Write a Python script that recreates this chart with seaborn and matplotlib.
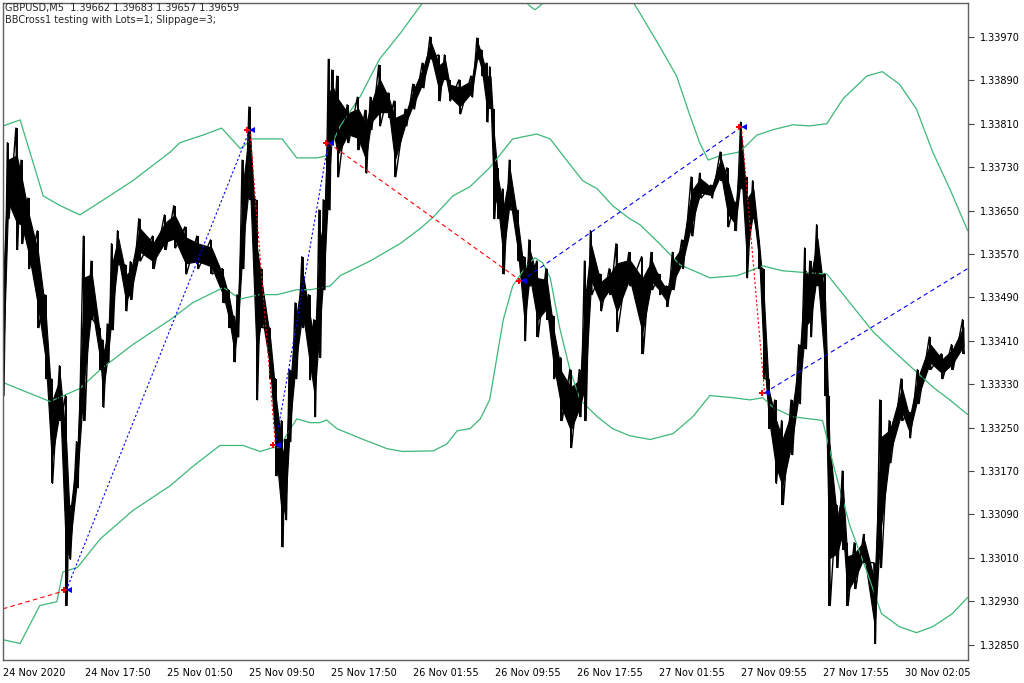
import numpy as np
import pandas as pd
import seaborn as sns
import matplotlib.pyplot as plt

# price action (M5 bars grouped), x = bar index
bar_x = [0, 6, 16, 22, 30, 41, 50, 57, 67, 74, 78, 87, 95, 104, 114, 117, 123, 128, 135, 144,
         150, 160, 176, 190, 201, 214, 228, 244, 258, 265, 271, 275, 281, 289, 297, 303, 313, 320, 327, 331,
         336, 343, 351, 359, 365, 371, 376, 382, 386, 392, 404, 416, 425, 431, 441, 452, 459, 472, 481, 492,
         501, 511, 518, 523, 535, 549, 556, 561, 567, 571, 575, 580, 586, 594, 603, 611, 617, 626, 637, 645,
         654, 665, 676, 682, 689, 700, 711, 719, 734, 749, 760, 769, 778, 785, 796, 807, 817, 830, 841, 849,
         858, 865, 871, 879, 886, 891, 897, 905, 913, 924, 933, 940, 946, 954, 963, 968, 977, 984, 989, 998,
         1009, 1021, 1028, 1039, 1053, 1062, 1072, 1086, 1100, 1112, 1125]
bar_hi = [1.33574, 1.33775, 1.33802, 1.33743, 1.33673, 1.33613, 1.33495, 1.33340, 1.33364, 1.33309,
          1.33108, 1.33224, 1.33603, 1.33557, 1.33434, 1.33412, 1.33441, 1.33589, 1.33613, 1.33550,
          1.33556, 1.33635, 1.33603, 1.33642, 1.33659, 1.33620, 1.33603, 1.33596, 1.33543, 1.33504,
          1.33456, 1.33495, 1.33743, 1.33841, 1.33670, 1.33543, 1.33434, 1.33340, 1.33263, 1.33228,
          1.33357, 1.33480, 1.33565, 1.33495, 1.33449, 1.33651, 1.33670, 1.33929, 1.33909, 1.33898,
          1.33845, 1.33859, 1.33835, 1.33859, 1.33918, 1.33867, 1.33852, 1.33837, 1.33883, 1.33922,
          1.33970, 1.33937, 1.33937, 1.33891, 1.33891, 1.33898, 1.33968, 1.33946, 1.33922, 1.33915,
          1.33837, 1.33729, 1.33690, 1.33743, 1.33651, 1.33565, 1.33596, 1.33557, 1.33543, 1.33456,
          1.33379, 1.33357, 1.33357, 1.33557, 1.33613, 1.33533, 1.33543, 1.33589, 1.33573, 1.33565,
          1.33573, 1.33533, 1.33511, 1.33573, 1.33596, 1.33712, 1.33719, 1.33697, 1.33758, 1.33729,
          1.33666, 1.33813, 1.33712, 1.33705, 1.33596, 1.33543, 1.33340, 1.33301, 1.33263, 1.33301,
          1.33403, 1.33581, 1.33557, 1.33624, 1.33533, 1.33309, 1.33108, 1.33170, 1.33038, 1.33038,
          1.33053, 1.33001, 1.33301, 1.33263, 1.33340, 1.33279, 1.33357, 1.33417, 1.33386, 1.33403,
          1.33449]
bar_lo = [1.33309, 1.33635, 1.33578, 1.33589, 1.33543, 1.33434, 1.33340, 1.33147, 1.33263, 1.32922,
          1.33007, 1.33139, 1.33263, 1.33449, 1.33357, 1.33287, 1.33371, 1.33430, 1.33550, 1.33465,
          1.33486, 1.33557, 1.33543, 1.33578, 1.33581, 1.33533, 1.33543, 1.33533, 1.33480, 1.33434,
          1.33371, 1.33417, 1.33543, 1.33670, 1.33301, 1.33434, 1.33340, 1.33161, 1.33030, 1.33080,
          1.33224, 1.33340, 1.33434, 1.33338, 1.33270, 1.33379, 1.33504, 1.33651, 1.33775, 1.33712,
          1.33775, 1.33762, 1.33719, 1.33799, 1.33806, 1.33821, 1.33712, 1.33806, 1.33837, 1.33876,
          1.33929, 1.33852, 1.33891, 1.33852, 1.33828, 1.33859, 1.33929, 1.33898, 1.33813, 1.33837,
          1.33635, 1.33635, 1.33533, 1.33651, 1.33557, 1.33410, 1.33511, 1.33417, 1.33449, 1.33340,
          1.33263, 1.33213, 1.33270, 1.33263, 1.33495, 1.33465, 1.33495, 1.33427, 1.33511, 1.33386,
          1.33504, 1.33495, 1.33473, 1.33504, 1.33543, 1.33603, 1.33673, 1.33673, 1.33705, 1.33620,
          1.33613, 1.33690, 1.33526, 1.33635, 1.33543, 1.33340, 1.33248, 1.33147, 1.33108, 1.33200,
          1.33294, 1.33395, 1.33417, 1.33511, 1.33309, 1.32922, 1.32992, 1.33025, 1.32922, 1.32953,
          1.33001, 1.32852, 1.32992, 1.33185, 1.33263, 1.33231, 1.33294, 1.33357, 1.33340, 1.33357,
          1.33386]

# bollinger bands
up_x = [0, 20, 47, 67, 90, 114, 152, 196, 207, 234, 256, 278, 292, 313, 327, 344, 368, 379, 395, 418,
        441, 465, 492, 523, 559, 594, 618, 623, 628, 652, 699, 738, 746, 769, 789, 804, 816, 826, 840, 863,
        883, 902, 925, 945, 965, 984, 1012, 1030, 1050, 1070, 1089, 1109, 1130]
up_y = [1.33806, 1.33817, 1.33677, 1.33659, 1.33642, 1.33666, 1.33705, 1.33758, 1.33775, 1.33789,
        1.33802, 1.33764, 1.33782, 1.33782, 1.33782, 1.33747, 1.33747, 1.33751, 1.33806, 1.33859,
        1.33929, 1.33976, 1.34034, 1.34075, 1.34090, 1.34060, 1.34026, 1.34020, 1.34026, 1.34060,
        1.34075, 1.34034, 1.34014, 1.33953, 1.33898, 1.33828, 1.33775, 1.33743, 1.33751, 1.33758,
        1.33789, 1.33799, 1.33808, 1.33806, 1.33810, 1.33856, 1.33898, 1.33906, 1.33883, 1.33837,
        1.33758, 1.33690, 1.33613]
mid_x = [0, 55, 90, 114, 152, 196, 222, 258, 278, 301, 321, 344, 360, 383, 395, 430, 465, 488, 504, 527,
         547, 570, 597, 625, 641, 660, 679, 696, 714, 734, 746, 769, 793, 828, 860, 890, 913, 945, 965, 992,
         1019, 1035, 1062, 1089, 1109, 1130]
mid_y = [1.33333, 1.33298, 1.33322, 1.33357, 1.33403, 1.33449, 1.33480, 1.33508, 1.33487, 1.33495,
         1.33495, 1.33504, 1.33504, 1.33511, 1.33530, 1.33557, 1.33589, 1.33616, 1.33638, 1.33677,
         1.33694, 1.33729, 1.33782, 1.33791, 1.33782, 1.33743, 1.33705, 1.33690, 1.33659, 1.33635,
         1.33624, 1.33589, 1.33550, 1.33526, 1.33530, 1.33548, 1.33539, 1.33535, 1.33533, 1.33480,
         1.33427, 1.33403, 1.33364, 1.33325, 1.33301, 1.33274]
lo_x = [0, 20, 43, 63, 70, 87, 114, 152, 196, 222, 254, 281, 301, 316, 324, 333, 344, 360, 371, 379,
        391, 422, 450, 468, 504, 520, 532, 547, 559, 570, 586, 597, 614, 623, 632, 641, 652, 664, 676, 696,
        714, 734, 758, 785, 808, 828, 855, 875, 890, 902, 925, 945, 960, 972, 992, 1012, 1029, 1050, 1070,
        1089, 1112, 1130]
lo_y = [1.32859, 1.32852, 1.32922, 1.32929, 1.32984, 1.32992, 1.33045, 1.33097, 1.33143, 1.33178,
        1.33217, 1.33217, 1.33206, 1.33213, 1.33213, 1.33239, 1.33266, 1.33259, 1.33259, 1.33264,
        1.33248, 1.33228, 1.33211, 1.33206, 1.33207, 1.33220, 1.33244, 1.33248, 1.33266, 1.33301,
        1.33449, 1.33511, 1.33550, 1.33563, 1.33554, 1.33526, 1.33434, 1.33357, 1.33301, 1.33270,
        1.33248, 1.33235, 1.33228, 1.33239, 1.33270, 1.33309, 1.33305, 1.33301, 1.33305, 1.33287,
        1.33270, 1.33266, 1.33263, 1.33185, 1.33069, 1.32984, 1.32907, 1.32883, 1.32872, 1.32883,
        1.32907, 1.32937]

# trades: turning points of the tester arrows
trade_x = [0, 74, 289, 319, 381, 607, 865, 892, 1130]
trade_y = [1.32916, 1.32950, 1.33799, 1.33218, 1.33775, 1.33520, 1.33804, 1.33314, 1.33543]
trade_col = ["red", "blue", "red", "blue", "red", "blue", "red", "blue"]
trade_dash = [(4, 3), (2, 2), (2, 2), (2, 2), (4, 3), (4, 3), (2, 2), (4, 3)]

y_ticks = [1.32850, 1.32930, 1.33010, 1.33090, 1.33170, 1.33250, 1.33330, 1.33410,
           1.33490, 1.33570, 1.33650, 1.33730, 1.33810, 1.33890, 1.33970]
x_labels = ["24 Nov 2020", "24 Nov 17:50", "25 Nov 01:50", "25 Nov 09:50", "25 Nov 17:50",
            "26 Nov 01:55", "26 Nov 09:55", "26 Nov 17:55", "27 Nov 01:55", "27 Nov 09:55",
            "27 Nov 17:55", "30 Nov 02:05"]

sns.set_style("white")
plt.rcParams['font.family'] = ['DejaVu Sans']

fig = plt.figure(figsize=(10.24, 6.83), dpi=100)
ax = fig.add_axes([0.003, 0.034, 0.942, 0.962])

green = "#3cb878"
for xs, ys in [(up_x, up_y), (mid_x, mid_y), (lo_x, lo_y)]:
    band = pd.DataFrame({"bar": xs, "price": ys})
    sns.lineplot(data=band, x="bar", y="price", ax=ax, color=green, lw=0.9)

# price: body ribbon, full high-low spikes and a saw line through them
hi = np.array(bar_hi)
lo = np.array(bar_lo)
mid = (hi + lo) / 2
half = (hi - lo) / 2 * 0.55
ax.fill_between(bar_x, mid - half, mid + half, color="black", lw=0.8)
ax.vlines(bar_x, lo, hi, color="black", lw=1.4)
zz_x, zz_y = [], []
for i, bx in enumerate(bar_x):
    zz_x += [bx - 1, bx + 1]
    zz_y += [hi[i], lo[i]]
ax.plot(zz_x, zz_y, color="black", lw=1.0)

for i in range(len(trade_x) - 1):
    seg = pd.DataFrame({"bar": trade_x[i:i + 2], "price": trade_y[i:i + 2]})
    sns.lineplot(data=seg, x="bar", y="price", ax=ax, color=trade_col[i],
                 lw=0.8).lines[-1].set_dashes(trade_dash[i])

for bx, py in zip(trade_x[1:-1], trade_y[1:-1]):
    ax.plot(bx - 3, py, marker="P", color="red", ms=5, mew=0)
    ax.plot(bx + 3, py, marker="<", color="blue", ms=4, mew=0)

ax.set_xlim(0, 1130)
ax.set_ylim(1.32822, 1.34033)
ax.yaxis.tick_right()
ax.set_yticks(y_ticks)
ax.set_yticklabels([f"{v:.5f}" for v in y_ticks])
ax.set_xticks([i * 96 for i in range(len(x_labels))])
ax.set_xticklabels(x_labels, ha="left")
ax.tick_params(axis="both", labelsize=7, length=4, width=0.8, color="#404040",
               labelcolor="black", direction="out", pad=2)
ax.tick_params(axis="y", pad=5)
ax.set_xlabel("")
ax.set_ylabel("")
for s in ax.spines.values():
    s.set_color("#606060")
    s.set_linewidth(1)

fig.text(0.005, 0.988, "GBPUSD,M5  1.39662 1.39683 1.39657 1.39659", fontsize=7, va="center")
fig.text(0.005, 0.970, "BBCross1 testing with Lots=1; Slippage=3;", fontsize=7, va="center")

fig.savefig("out.png", dpi=100)
